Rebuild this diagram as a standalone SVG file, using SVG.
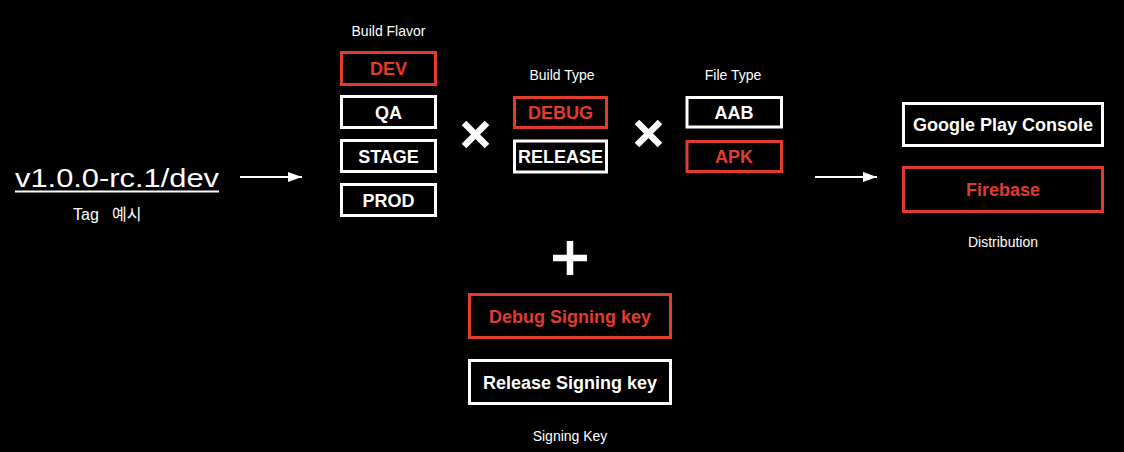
<svg xmlns="http://www.w3.org/2000/svg" width="1124" height="452" viewBox="0 0 1124 452">
  <defs>
    <style>
      .bw { fill: none; stroke: #ffffff; stroke-width: 3; }
      .br { fill: none; stroke: #e03c2b; stroke-width: 3; }
      .lw { fill: #ffffff; font-family: "Liberation Sans", Arial, sans-serif; font-weight: bold; font-size: 18px; text-anchor: middle; }
      .lr { fill: #e03c2b; font-family: "Liberation Sans", Arial, sans-serif; font-weight: bold; font-size: 18px; text-anchor: middle; }
      .cap { fill: #ffffff; font-family: "Liberation Sans", Arial, "Noto Sans CJK KR", sans-serif; font-size: 14px; text-anchor: middle; }
      .tag { fill: #ffffff; font-family: "Liberation Sans", Arial, "Noto Sans CJK KR", sans-serif; font-size: 16px; }
      .sym { stroke: #ffffff; stroke-width: 6.5; fill: none; }
      .conn { stroke: #ffffff; stroke-width: 2; fill: none; }
    </style>
    <marker id="ah" markerWidth="14" markerHeight="10" refX="14" refY="5" orient="auto" markerUnits="userSpaceOnUse">
      <path d="M0,0 L14,5 L0,10 Z" fill="#ffffff"/>
    </marker>
  </defs>
  <rect x="0" y="0" width="1124" height="452" fill="#000000"/>

  <g id="tag">
    <text x="15" y="187" font-family="Liberation Sans, Arial, sans-serif" font-size="26" fill="#ffffff" textLength="204" lengthAdjust="spacingAndGlyphs">v1.0.0-rc.1/dev</text>
    <line x1="15" y1="191.5" x2="219" y2="191.5" stroke="#ffffff" stroke-width="2"/>
    <text class="tag" x="73" y="220">Tag</text>
    <text class="tag" x="112" y="220">예시</text>
  </g>

  <g id="build-flavor">
    <text class="cap" x="388.5" y="36">Build Flavor</text>
    <g id="flavor-dev"><rect class="br" x="341.5" y="52.5" width="94" height="32"/><text class="lr" x="388.5" y="75">DEV</text></g>
    <g id="flavor-qa"><rect class="bw" x="341.5" y="96.5" width="94" height="31"/><text class="lw" x="388.5" y="118.5">QA</text></g>
    <g id="flavor-stage"><rect class="bw" x="341.5" y="140.5" width="94" height="31"/><text class="lw" x="388.5" y="162.5">STAGE</text></g>
    <g id="flavor-prod"><rect class="bw" x="341.5" y="184.5" width="94" height="31"/><text class="lw" x="388.5" y="206.5">PROD</text></g>
  </g>

  <g id="times-1"><path class="sym" d="M464,123 L487,146 M487,123 L464,146"/></g>

  <g id="build-type">
    <text class="cap" x="562" y="80">Build Type</text>
    <g id="type-debug"><rect class="br" x="514.5" y="97.5" width="92" height="30"/><text class="lr" x="560.5" y="119">DEBUG</text></g>
    <g id="type-release"><rect class="bw" x="514.5" y="141" width="92" height="31"/><text class="lw" x="560.5" y="163">RELEASE</text></g>
  </g>

  <g id="times-2"><path class="sym" d="M637,122 L660,145 M660,122 L637,145"/></g>

  <g id="file-type">
    <text class="cap" x="733" y="80">File Type</text>
    <g id="file-aab"><rect class="bw" x="687" y="97.5" width="94.5" height="29.5"/><text class="lw" x="734" y="119">AAB</text></g>
    <g id="file-apk"><rect class="br" x="687" y="141.5" width="94.5" height="30"/><text class="lr" x="734" y="163">APK</text></g>
  </g>

  <g id="distribution">
    <g id="dist-gpc"><rect class="bw" x="903.5" y="103.5" width="199" height="42"/><text class="lw" x="1003" y="131">Google Play Console</text></g>
    <g id="dist-firebase"><rect class="br" x="903.5" y="167.5" width="199" height="44"/><text class="lr" x="1003" y="196">Firebase</text></g>
    <text class="cap" x="1003" y="247">Distribution</text>
  </g>

  <g id="plus"><path class="sym" d="M570,241 L570,275 M553,258 L587,258"/></g>

  <g id="signing-key">
    <g id="key-debug"><rect class="br" x="469.5" y="294.5" width="201" height="43"/><text class="lr" x="570" y="323">Debug Signing key</text></g>
    <g id="key-release"><rect class="bw" x="469.5" y="360.5" width="201" height="43"/><text class="lw" x="570" y="389">Release Signing key</text></g>
    <text class="cap" x="570" y="441">Signing Key</text>
  </g>

  <g id="connectors">
    <line class="conn" x1="240" y1="177" x2="302" y2="177" marker-end="url(#ah)"/>
    <line class="conn" x1="815" y1="177" x2="877" y2="177" marker-end="url(#ah)"/>
  </g>
</svg>
